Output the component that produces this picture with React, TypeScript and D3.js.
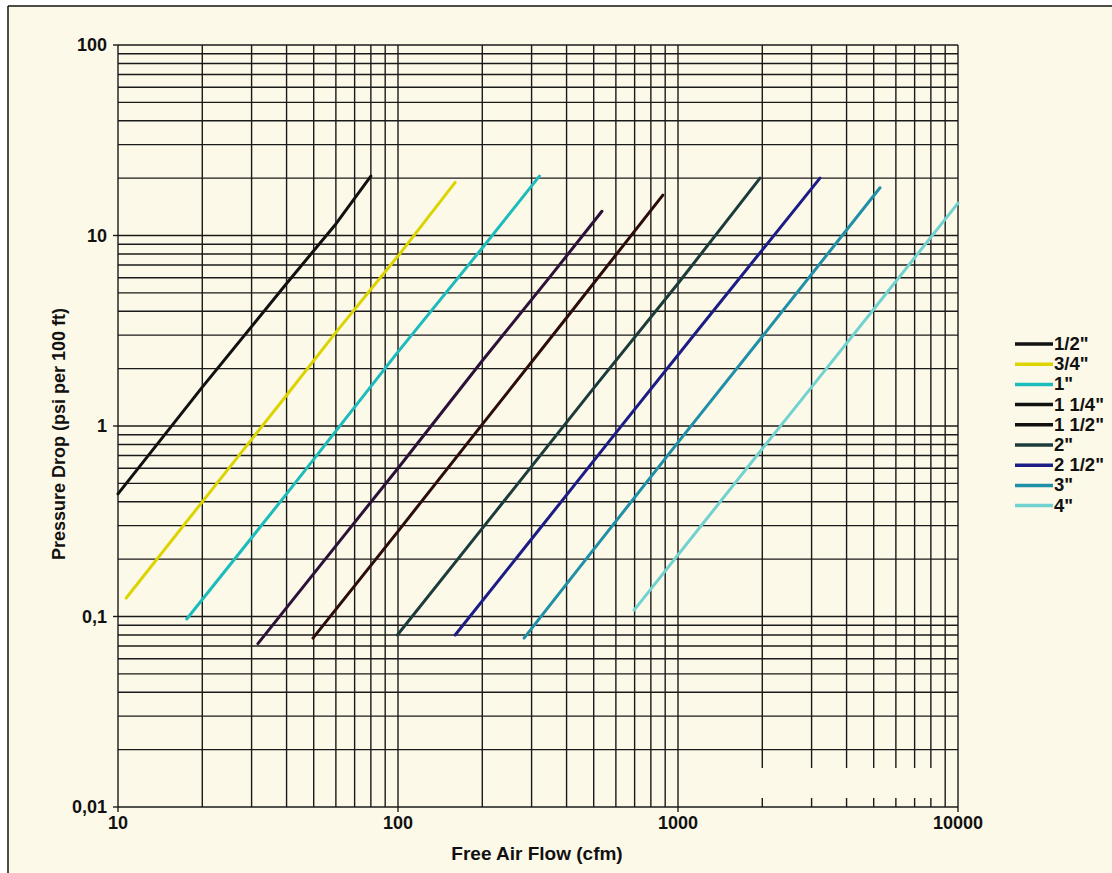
import React from 'react';
import * as d3 from 'd3';

const W = 1112;
const H = 873;
const BG = '#fdf9e8';

// pipe sizes and their (flow cfm, pressure drop psi/100ft) points
const pipeSizes = ['1/2"', '3/4"', '1"', '1 1/4"', '1 1/2"', '2"', '2 1/2"', '3"', '4"'];
const lineColors = ['#111111', '#dcd400', '#1cbcbc', '#2c1238', '#2c0c0c', '#1c3c3c', '#1c1c86', '#2090a8', '#72d2d0'];
const legendColors = ['#111111', '#dcd400', '#1cbcbc', '#111111', '#111111', '#1c3c3c', '#1c1c86', '#2090a8', '#72d2d0'];

const half = [[10, 0.44], [20, 1.6], [40, 5.6], [60, 11.5], [80, 20.5]];
const threeQuarter = [[10.7, 0.125], [20, 0.4], [40, 1.45], [60, 3.1], [100, 7.8], [160, 19]];
const one = [[17.6, 0.097], [40, 0.44], [100, 2.45], [200, 8.6], [320, 20.5]];
const oneQuarter = [[31.6, 0.072], [60, 0.235], [100, 0.6], [200, 2.2], [350, 6.1], [535, 13.4]];
const oneHalf = [[49.7, 0.077], [100, 0.28], [200, 1.02], [400, 3.7], [883, 16.3]];
const two = [[99.5, 0.08], [200, 0.29], [500, 1.58], [1000, 5.6], [1963, 20]];
const twoHalf = [[160, 0.08], [300, 0.255], [600, 0.92], [1200, 3.3], [3214, 20]];
const three = [[282, 0.077], [500, 0.225], [1000, 0.82], [2000, 2.95], [5265, 17.8]];
const four = [[697, 0.108], [1200, 0.295], [2000, 0.76], [3000, 1.6], [5000, 4.1], [10000, 14.8]];
const seriesData = [half, threeQuarter, one, oneQuarter, oneHalf, two, twoHalf, three, four];

const xTicks = [10, 100, 1000, 10000];
const xTickLabels = ['10', '100', '1000', '10000'];
const yTicks = [100, 10, 1, 0.1, 0.01];
const yTickLabels = ['100', '10', '1', '0,1', '0,01'];

export default function App() {
  const x = d3.scaleLog().domain([10, 10000]).range([118, 958]);
  const y = d3.scaleLog().domain([0.01, 100]).range([807, 45]);

  // minor grid values 1..9 per decade
  const gridX: number[] = [];
  for (let d = 10; d < 10000; d *= 10) for (let k = 1; k < 10; k++) gridX.push(d * k);
  gridX.push(10000);
  const gridY: number[] = [];
  for (let d = 0.01; d < 99; d *= 10) for (let k = 1; k < 10; k++) gridY.push(+(d * k).toPrecision(3));
  gridY.push(100);

  const line = d3.line<number[]>()
    .x(d => x(d[0]))
    .y(d => y(d[1]));

  const font = 'Arial, "Liberation Sans", sans-serif';

  return (
    <div style={{ position: 'absolute', left: 0, top: 0, width: W, height: H }}>
      <svg width={W} height={H} style={{ display: 'block' }} fontFamily={font}>
        <rect x={0} y={0} width={W} height={H} fill="#ffffff" />
        <rect x={8} y={6} width={W - 8} height={H - 6} fill={BG} />
        <line x1={8} x2={W} y1={6} y2={6} stroke="#111" strokeWidth={1.5} />
        <line x1={8} x2={8} y1={6} y2={H} stroke="#111" strokeWidth={1.5} />

        {/* grid */}
        <g stroke="#1a1a1a" strokeWidth={1.4}>
          {gridX.map((v, i) => (
            <line key={'gx' + i} x1={x(v)} x2={x(v)} y1={45} y2={807} />
          ))}
          {gridY.map((v, i) => (
            <line key={'gy' + i} x1={118} x2={958} y1={y(v)} y2={y(v)} />
          ))}
        </g>
        {/* blank patch in the lower right */}
        <rect x={755} y={768} width={185} height={30} fill={BG} />

        {/* ticks */}
        <g stroke="#1a1a1a" strokeWidth={1.4}>
          {xTicks.map(v => (
            <line key={'xt' + v} x1={x(v)} x2={x(v)} y1={807} y2={812} />
          ))}
          {yTicks.map(v => (
            <line key={'yt' + v} x1={113} x2={118} y1={y(v)} y2={y(v)} />
          ))}
        </g>
        <g fontSize={18} fontWeight="bold" fill="#111">
          {xTicks.map((v, i) => (
            <text key={'xl' + v} x={x(v)} y={829} textAnchor="middle">{xTickLabels[i]}</text>
          ))}
          {yTicks.map((v, i) => (
            <text key={'yl' + v} x={107} y={y(v) + 6} textAnchor="end">{yTickLabels[i]}</text>
          ))}
        </g>

        {/* series */}
        <g fill="none" strokeWidth={3} strokeLinejoin="round" strokeLinecap="round">
          {seriesData.map((s, i) => (
            <path key={'s' + i} d={line(s) || ''} stroke={lineColors[i]} />
          ))}
        </g>

        {/* axis titles */}
        <text x={537} y={860} textAnchor="middle" fontSize={19} fontWeight="bold" fill="#111">
          Free Air Flow (cfm)
        </text>
        <text transform="translate(65,434) rotate(-90)" textAnchor="middle" fontSize={18} fontWeight="bold" fill="#111">
          Pressure Drop  (psi  per 100 ft)
        </text>

        {/* legend */}
        <g>
          {pipeSizes.map((p, i) => {
            const ly = 344 + i * 20.2;
            return (
              <g key={'lg' + p}>
                <line x1={1015} x2={1053} y1={ly} y2={ly} stroke={legendColors[i]} strokeWidth={3.5} />
                <text x={1054} y={ly + 6} fontSize={18.5} fontWeight="bold" fill="#111">{p}</text>
              </g>
            );
          })}
        </g>
      </svg>
    </div>
  );
}
